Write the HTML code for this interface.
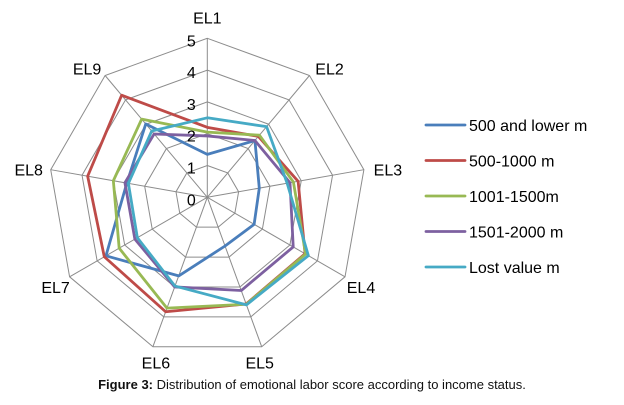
<!DOCTYPE html>
<html><head><meta charset="utf-8"><style>
body{margin:0;background:#fff;}
svg text{font-family:"Liberation Sans",sans-serif;}
</style></head><body>
<svg id="chart" width="624" height="400" xmlns="http://www.w3.org/2000/svg">
<g id="grid"></g>
<g id="series"></g>
<g id="labels"></g>
<g id="legend"></g>
<text x="312" y="389" text-anchor="middle" font-size="13" fill="#111"><tspan font-weight="bold">Figure 3:</tspan> Distribution of emotional labor score according to income status.</text>
</svg>
<script>
const categories = ["EL1","EL2","EL3","EL4","EL5","EL6","EL7","EL8","EL9"];
const ticks = [0,1,2,3,4,5];
const seriesNames = ["500 and lower m","500-1000 m","1001-1500m","1501-2000 m","Lost value m"];
const seriesColors = ["#4a7ebb","#be4b48","#98b954","#7d60a0","#46aac5"];
const s1 = [1.35,2.33,1.66,1.7,1.63,2.63,3.68,2.57,3.01];
const s2 = [2.2,2.5,2.9,3.55,3.57,3.83,3.74,3.82,4.19];
const s3 = [2.05,2.55,2.75,3.57,3.58,3.71,3.2,3.0,3.21];
const s4 = [1.93,2.33,2.64,3.12,3.12,3.0,2.63,2.63,2.6];
const s5 = [2.5,2.9,2.55,3.67,3.6,2.97,2.54,2.52,2.72];
const seriesData = [s1,s2,s3,s4,s5];

const NS="http://www.w3.org/2000/svg";
const cx=207.3, cy=197.3, R=159, maxV=5;
const labelOffsets=[[0,-21],[20,-7],[24,0],[16,10],[-2,16],[3,16],[-14,10],[-22,0],[-18,-7]];
function pt(i,v){const a=i*2*Math.PI/categories.length;const r=v/maxV*R;return [cx+r*Math.sin(a), cy-r*Math.cos(a)];}
function mk(tag,attrs,parent){const e=document.createElementNS(NS,tag);for(const k in attrs)e.setAttribute(k,attrs[k]);parent.appendChild(e);return e;}
const grid=document.getElementById('grid');
ticks.slice(1).forEach(t=>{
  const p=categories.map((c,i)=>pt(i,t).join(',')).join(' ');
  const e=mk('polygon',{points:p,fill:'none',stroke:'#8c8c8c','stroke-width':1},grid);
  
  
});
categories.forEach((c,i)=>{
  const [x,y]=pt(i,maxV);
  const e=mk('line',{x1:cx,y1:cy,x2:x,y2:y,stroke:'#8c8c8c','stroke-width':1},grid);
  
  
});
const ser=document.getElementById('series');
seriesData.forEach((d,k)=>{
  const p=d.map((v,i)=>pt(i,v).join(',')).join(' ');
  const e=mk('polygon',{points:p,fill:'none',stroke:seriesColors[k],'stroke-width':2.8,'stroke-linejoin':'round'},ser);
  
  
});
const lab=document.getElementById('labels');
ticks.forEach(t=>{
  const [x,y]=pt(0,t);
  const e=mk('text',{x:x-16,y:y+8,'font-size':16,'text-anchor':'middle',fill:'#000'},lab);
  e.textContent=t;
  
  
});
categories.forEach((c,i)=>{
  const [x,y]=pt(i,maxV);
  const o=labelOffsets[i];
  const e=mk('text',{x:x+o[0],y:y+o[1]+6,'font-size':16,'text-anchor':'middle',fill:'#000'},lab);
  e.textContent=c;
  
  
});
const leg=document.getElementById('legend');
seriesNames.forEach((n,k)=>{
  const y=125+k*35.5;
  const g=mk('g',{},leg);
  
  
  mk('line',{x1:426,y1:y,x2:465,y2:y,stroke:seriesColors[k],'stroke-width':2.8,'stroke-linecap':'round'},g);
  const t=mk('text',{x:469,y:y+6,'font-size':16,fill:'#000'},g);
  t.textContent=n;
});
</script>
</body></html>
